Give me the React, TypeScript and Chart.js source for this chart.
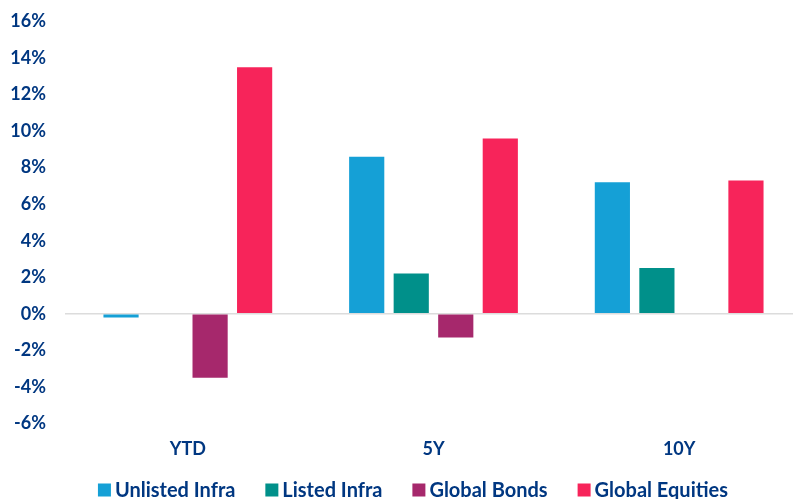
import React, { useEffect, useRef } from 'react';
import { Chart, registerables } from 'chart.js';

Chart.register(...registerables);

// ---- data ----
const categories = ['YTD', '5Y', '10Y'];
const seriesLabels = ['Unlisted Infra', 'Listed Infra', 'Global Bonds', 'Global Equities'];
const unlistedInfra = [-0.2, 8.6, 7.2];
const listedInfra = [0.05, 2.2, 2.5];
const globalBonds: (number | null)[] = [-3.5, -1.3, null];
const globalEquities = [13.5, 9.6, 7.3];
const yMin = -6;
const yMax = 16;
const yStep = 2;

// ---- styles ----
const NAVY = '#003781';
const FONT = 'Lato';
const colors = ['#15A0D6', '#00908A', '#A6286C', '#F7245A'];

const legendPlugin = {
  id: 'customLegend',
  afterDraw(chart: any) {
    const ctx = chart.ctx as CanvasRenderingContext2D;
    const fontSize = 20;
    const box = 13;
    const gap = 4;
    const spacing = 30;
    ctx.save();
    ctx.font = `700 ${fontSize}px ${FONT}`;
    const items = chart.data.datasets.map((ds: any) => ({
      label: ds.label as string,
      color: ds.backgroundColor as string,
      w: ctx.measureText(ds.label).width,
    }));
    const total =
      items.reduce((s: number, it: any) => s + box + gap + it.w, 0) + spacing * (items.length - 1);
    let x = chart.width / 2 - total / 2;
    const cy = chart.height - 9;
    ctx.textBaseline = 'middle';
    ctx.textAlign = 'left';
    for (const it of items) {
      ctx.fillStyle = it.color;
      ctx.fillRect(x, cy - box / 2, box, box);
      x += box + gap;
      ctx.fillStyle = NAVY;
      ctx.fillText(it.label, x, cy + 1);
      x += it.w + spacing;
    }
    ctx.restore();
  },
};

export default function App() {
  const ref = useRef<HTMLCanvasElement | null>(null);

  useEffect(() => {
    if (!ref.current) return;
    const seriesValues = [unlistedInfra, listedInfra, globalBonds, globalEquities];
    const chart = new Chart(ref.current, {
      type: 'bar',
      data: {
        labels: categories,
        datasets: seriesLabels.map((label, i) => ({
          label,
          data: seriesValues[i],
          backgroundColor: colors[i],
          borderWidth: 0,
          categoryPercentage: 0.725,
          barPercentage: 0.79,
        })),
      },
      options: {
        animation: false,
        responsive: false,
        layout: { padding: { top: 21.5, right: 24, bottom: 32, left: 0 } },
        plugins: {
          legend: { display: false },
          tooltip: { enabled: false },
        },
        scales: {
          x: {
            grid: { display: false },
            border: { display: false },
            ticks: {
              color: NAVY,
              padding: 7,
              font: { family: FONT, size: 18, weight: 'bold' },
            },
          },
          y: {
            min: yMin,
            max: yMax,
            afterFit: (scale: any) => {
              scale.width = 65;
            },
            border: { display: false },
            grid: {
              drawTicks: true,
              tickLength: 19,
              tickColor: 'rgba(0,0,0,0)',
              lineWidth: 1.5,
              color: (c: any) => (c.tick && c.tick.value === 0 ? '#dcdcdc' : 'rgba(0,0,0,0)'),
            },
            ticks: {
              stepSize: yStep,
              padding: 0,
              color: NAVY,
              font: { family: FONT, size: 18, weight: 'bold' },
              callback: (v: any) => `${v}%`,
            },
          },
        },
      },
      plugins: [legendPlugin],
    });
    return () => chart.destroy();
  }, []);

  return (
    <div
      style={{
        position: 'fixed',
        left: 0,
        top: 0,
        width: 793,
        height: 499,
        overflow: 'hidden',
        background: '#fff',
      }}
    >
      <canvas ref={ref} width={826} height={499} />
    </div>
  );
}
